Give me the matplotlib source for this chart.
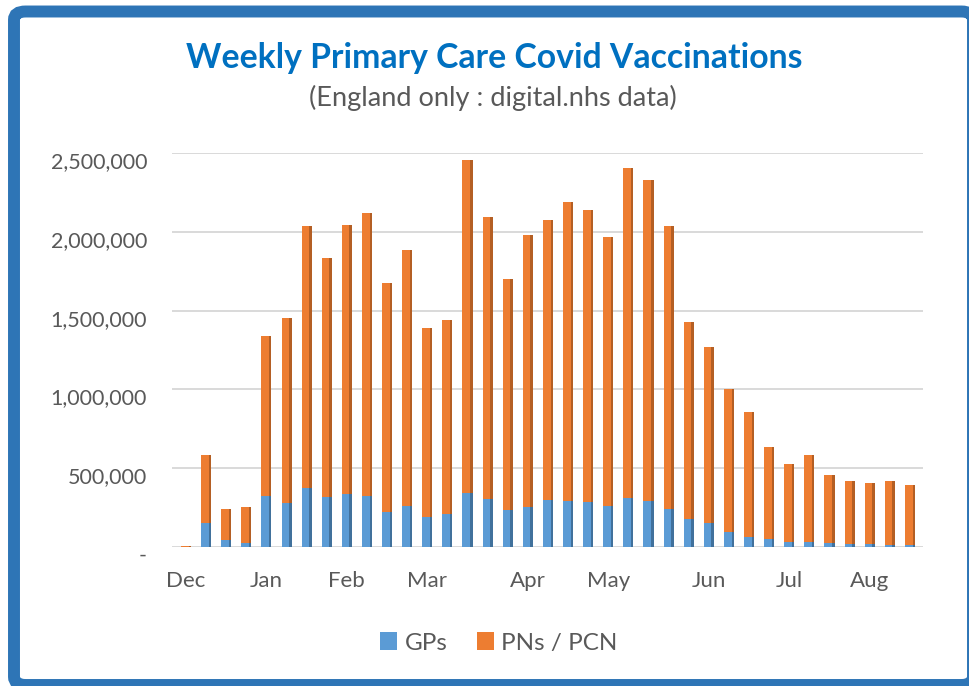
import numpy as np
import matplotlib
matplotlib.use("Agg")
import matplotlib.pyplot as plt
from matplotlib.patches import FancyBboxPatch
from matplotlib.ticker import FuncFormatter
from matplotlib.transforms import ScaledTranslation

# weekly values (37 weeks, Dec to Aug)
gps = [2000, 155000, 45000, 27000, 324000, 282000, 373000, 316000, 337000,
       326000, 221000, 261000, 193000, 210000, 342000, 305000, 235000,
       253000, 299000, 295000, 284000, 263000, 310000, 293000, 240000,
       178000, 155000, 94000, 62000, 49000, 30000, 34000, 24000, 19000,
       17000, 15000, 13000]
pns_pcn = [6000, 430000, 195000, 226000, 1018000, 1173000, 1664000, 1516000,
           1705000, 1792000, 1456000, 1624000, 1198000, 1228000, 2115000,
           1786000, 1463000, 1727000, 1775000, 1895000, 1853000, 1701000,
           2092000, 2037000, 1794000, 1249000, 1113000, 909000, 792000,
           583000, 496000, 551000, 434000, 401000, 388000, 405000, 381000]
month_labels = ["Dec", "Jan", "Feb", "Mar", "Apr", "May", "Jun", "Jul", "Aug"]
month_first_week = [0, 4, 8, 12, 17, 21, 26, 30, 34]

blue = "#5B9BD5"
blue_side = "#41719C"
orange = "#ED7D31"
orange_side = "#B45F24"
grey_text = "#595959"

plt.rcParams["font.family"] = ["Lato", "DejaVu Sans"]

fig = plt.figure(figsize=(9.7, 6.86), dpi=100)
W, H = 970, 686

# blue frame round the chart
frame = FancyBboxPatch((14 / W, 1 - 685 / H), (973 - 14) / W, (685 - 11.5) / H,
                       boxstyle="round,pad=0,rounding_size=0.012",
                       transform=fig.transFigure, facecolor="white",
                       edgecolor="#2E75B6", linewidth=8.6, zorder=-1)
fig.patches.append(frame)

fig.text(494 / W, 1 - 58 / H, "Weekly Primary Care Covid Vaccinations",
         ha="center", va="center", fontsize=24.3, fontweight="bold", color="#0070C0")
fig.text(493 / W, 1 - 98 / H, "(England only : digital.nhs data)",
         ha="center", va="center", fontsize=19.5, color=grey_text)

ax = fig.add_axes([172 / W, 1 - 547 / H, (923 - 172) / W, (547 - 153) / H])
ax.patch.set_alpha(0)

x = np.arange(len(gps))
gps = np.array(gps)
pns_pcn = np.array(pns_pcn)
face_w = 0.38
side_w = 0.12

ax.bar(x - side_w / 2, gps, width=face_w, color=blue, label="GPs", zorder=3)
ax.bar(x + face_w / 2, gps, width=side_w, color=blue_side, zorder=3)
ax.bar(x - side_w / 2, pns_pcn, bottom=gps, width=face_w, color=orange,
       label="PNs / PCN", zorder=3)
ax.bar(x + face_w / 2, pns_pcn, bottom=gps, width=side_w, color=orange_side, zorder=3)

ax.set_xlim(-0.696, 36.65)
ax.set_ylim(0, 2500000)
ax.set_yticks(np.arange(0, 2500001, 500000))
ax.yaxis.set_major_formatter(FuncFormatter(lambda v, p: "-" if v == 0 else f"{int(v):,}"))
ax.grid(axis="y", color="#D9D9D9", linewidth=1.4, zorder=0)
ax.set_axisbelow(True)

ax.set_xticks(month_first_week)
ax.set_xticklabels(month_labels)

for s in ax.spines.values():
    s.set_visible(False)
ax.tick_params(axis="both", length=0, colors=grey_text)
ax.tick_params(axis="y", pad=18, labelsize=15.5)
ax.tick_params(axis="x", pad=17, labelsize=16)

# labels sit a little below the back-wall gridlines, as in the 3D original
shift = ScaledTranslation(0, -7 / 100, fig.dpi_scale_trans)
for lab in ax.get_yticklabels():
    lab.set_transform(lab.get_transform() + shift)

handles, labels = ax.get_legend_handles_labels()
fig.legend(handles, labels, loc="center", bbox_to_anchor=(499 / W, 1 - 643 / H),
           ncol=2, frameon=False, fontsize=17.5, labelcolor=grey_text,
           handlelength=0.7, handleheight=0.7, handletextpad=0.3, columnspacing=1.2)

fig.savefig("out.png", dpi=100)
